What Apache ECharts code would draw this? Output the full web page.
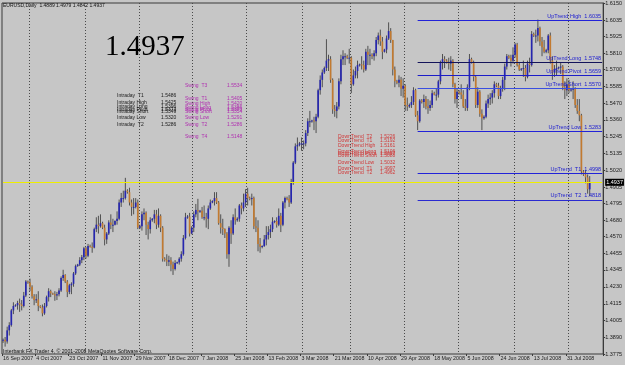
<!DOCTYPE html>
<html>
<head>
<meta charset="utf-8">
<script src="https://cdn.jsdelivr.net/npm/echarts@6/dist/echarts.min.js"></script>
<style>
html, body { margin: 0; padding: 0; background: #c6c6c6; }
#chart { width: 625px; height: 365px; }
</style>
</head>
<body>
<div id="chart"></div>
<script>
// EURUSD daily bars, 16 Sep 2007 .. 13 Aug 2008 (Sun-Fri sessions), [open, high, low, close]
const eurusd = [
  [1.3865,1.3880,1.3850,1.3872],[1.3872,1.3890,1.3825,1.3860],[1.3860,1.3960,1.3845,1.3935],[1.3935,1.3990,1.3900,1.3970],
  [1.3970,1.4080,1.3960,1.4070],[1.4070,1.4125,1.4045,1.4100],[1.4100,1.4112,1.4095,1.4105],[1.4105,1.4135,1.4075,1.4120],
  [1.4120,1.4150,1.4060,1.4110],[1.4110,1.4140,1.4070,1.4100],[1.4100,1.4195,1.4090,1.4170],[1.4170,1.4275,1.4160,1.4265],
  [1.4265,1.4272,1.4250,1.4258],[1.4258,1.4285,1.4200,1.4230],[1.4230,1.4240,1.4150,1.4165],[1.4165,1.4180,1.4105,1.4140],
  [1.4140,1.4180,1.4120,1.4145],[1.4145,1.4200,1.4065,1.4100],[1.4100,1.4105,1.4085,1.4090],[1.4090,1.4110,1.4030,1.4050],
  [1.4050,1.4120,1.4040,1.4100],[1.4100,1.4170,1.4090,1.4160],[1.4160,1.4220,1.4130,1.4200],[1.4200,1.4210,1.4160,1.4185],
  [1.4185,1.4190,1.4175,1.4180],[1.4180,1.4200,1.4135,1.4170],[1.4170,1.4195,1.4140,1.4180],[1.4180,1.4220,1.4165,1.4205],
  [1.4205,1.4300,1.4195,1.4290],[1.4290,1.4345,1.4270,1.4310],[1.4310,1.4315,1.4255,1.4265],[1.4265,1.4275,1.4160,1.4195],
  [1.4195,1.4250,1.4180,1.4240],[1.4240,1.4260,1.4180,1.4250],[1.4250,1.4330,1.4230,1.4320],[1.4320,1.4380,1.4310,1.4370],
  [1.4370,1.4385,1.4365,1.4380],[1.4380,1.4430,1.4370,1.4410],[1.4410,1.4445,1.4390,1.4430],[1.4430,1.4500,1.4410,1.4490],
  [1.4490,1.4500,1.4420,1.4440],[1.4440,1.4520,1.4430,1.4505],[1.4505,1.4515,1.4495,1.4500],[1.4500,1.4530,1.4460,1.4495],
  [1.4495,1.4630,1.4490,1.4620],[1.4620,1.4700,1.4600,1.4650],[1.4650,1.4710,1.4590,1.4640],[1.4640,1.4720,1.4630,1.4660],
  [1.4660,1.4670,1.4620,1.4630],[1.4630,1.4650,1.4510,1.4550],[1.4550,1.4600,1.4520,1.4590],[1.4590,1.4680,1.4580,1.4665],
  [1.4665,1.4720,1.4620,1.4650],[1.4650,1.4690,1.4600,1.4650],[1.4650,1.4680,1.4645,1.4675],[1.4675,1.4740,1.4650,1.4690],
  [1.4690,1.4820,1.4680,1.4800],[1.4800,1.4865,1.4770,1.4830],[1.4830,1.4880,1.4800,1.4830],[1.4830,1.4967,1.4820,1.4880],
  [1.4880,1.4890,1.4860,1.4870],[1.4870,1.4900,1.4780,1.4800],[1.4800,1.4820,1.4710,1.4770],[1.4770,1.4830,1.4720,1.4770],
  [1.4770,1.4830,1.4760,1.4800],[1.4800,1.4820,1.4620,1.4630],[1.4630,1.4650,1.4620,1.4640],[1.4640,1.4740,1.4610,1.4720],
  [1.4720,1.4760,1.4680,1.4730],[1.4730,1.4740,1.4580,1.4650],[1.4650,1.4670,1.4550,1.4620],[1.4620,1.4700,1.4590,1.4680],
  [1.4680,1.4695,1.4670,1.4690],[1.4690,1.4750,1.4660,1.4720],[1.4720,1.4750,1.4620,1.4650],[1.4650,1.4760,1.4630,1.4710],
  [1.4710,1.4720,1.4600,1.4630],[1.4630,1.4640,1.4400,1.4420],[1.4420,1.4430,1.4400,1.4410],[1.4410,1.4450,1.4370,1.4400],
  [1.4400,1.4440,1.4370,1.4410],[1.4410,1.4430,1.4335,1.4380],[1.4380,1.4400,1.4310,1.4350],[1.4350,1.4410,1.4340,1.4390],
  [1.4390,1.4400,1.4385,1.4395],[1.4395,1.4430,1.4380,1.4420],[1.4420,1.4470,1.4400,1.4450],[1.4450,1.4580,1.4440,1.4560],
  [1.4560,1.4730,1.4550,1.4700],[1.4700,1.4715,1.4690,1.4705],[1.4705,1.4730,1.4570,1.4590],[1.4590,1.4640,1.4585,1.4630],
  [1.4630,1.4740,1.4600,1.4720],[1.4720,1.4790,1.4700,1.4750],[1.4750,1.4825,1.4680,1.4740],[1.4740,1.4750,1.4730,1.4745],
  [1.4745,1.4770,1.4690,1.4700],[1.4700,1.4780,1.4680,1.4700],[1.4700,1.4730,1.4630,1.4690],[1.4690,1.4780,1.4620,1.4760],
  [1.4760,1.4820,1.4750,1.4800],[1.4800,1.4815,1.4795,1.4810],[1.4810,1.4870,1.4780,1.4830],[1.4830,1.4870,1.4790,1.4800],
  [1.4800,1.4810,1.4650,1.4660],[1.4660,1.4720,1.4590,1.4630],[1.4630,1.4690,1.4580,1.4620],[1.4620,1.4625,1.4560,1.4590],
  [1.4590,1.4600,1.4420,1.4450],[1.4450,1.4640,1.4365,1.4630],[1.4630,1.4680,1.4520,1.4590],[1.4590,1.4720,1.4580,1.4700],
  [1.4700,1.4760,1.4650,1.4680],[1.4680,1.4700,1.4670,1.4690],[1.4690,1.4790,1.4670,1.4780],[1.4780,1.4800,1.4720,1.4760],
  [1.4760,1.4860,1.4740,1.4800],[1.4800,1.4890,1.4770,1.4860],[1.4860,1.4900,1.4780,1.4830],[1.4830,1.4840,1.4815,1.4825],
  [1.4825,1.4860,1.4780,1.4830],[1.4830,1.4840,1.4620,1.4640],[1.4640,1.4700,1.4600,1.4630],[1.4630,1.4680,1.4470,1.4520],
  [1.4520,1.4560,1.4460,1.4500],[1.4500,1.4510,1.4490,1.4505],[1.4505,1.4580,1.4500,1.4550],[1.4550,1.4640,1.4510,1.4580],
  [1.4580,1.4640,1.4550,1.4600],[1.4600,1.4650,1.4560,1.4620],[1.4620,1.4700,1.4600,1.4670],[1.4670,1.4680,1.4660,1.4675],
  [1.4675,1.4700,1.4630,1.4650],[1.4650,1.4760,1.4640,1.4710],[1.4710,1.4730,1.4600,1.4650],[1.4650,1.4810,1.4640,1.4800],
  [1.4800,1.4840,1.4760,1.4830],[1.4830,1.4840,1.4815,1.4825],[1.4825,1.4850,1.4770,1.4800],[1.4800,1.4960,1.4790,1.4940],
  [1.4940,1.5080,1.4920,1.5070],[1.5070,1.5200,1.5060,1.5180],[1.5180,1.5240,1.5150,1.5190],[1.5190,1.5210,1.5180,1.5200],
  [1.5200,1.5240,1.5150,1.5200],[1.5200,1.5220,1.5160,1.5200],[1.5200,1.5290,1.5180,1.5270],[1.5270,1.5370,1.5250,1.5350],
  [1.5350,1.5420,1.5310,1.5350],[1.5350,1.5360,1.5340,1.5355],[1.5355,1.5380,1.5290,1.5350],[1.5350,1.5400,1.5270,1.5380],
  [1.5380,1.5570,1.5370,1.5560],[1.5560,1.5660,1.5530,1.5630],[1.5630,1.5700,1.5580,1.5680],[1.5680,1.5720,1.5670,1.5710],
  [1.5710,1.5905,1.5690,1.5760],[1.5760,1.5800,1.5690,1.5770],[1.5770,1.5790,1.5610,1.5630],[1.5630,1.5640,1.5400,1.5430],
  [1.5430,1.5460,1.5380,1.5420],[1.5420,1.5480,1.5370,1.5450],[1.5450,1.5640,1.5430,1.5620],[1.5620,1.5800,1.5600,1.5770],
  [1.5770,1.5830,1.5730,1.5790],[1.5790,1.5810,1.5730,1.5790],[1.5790,1.5800,1.5770,1.5780],[1.5780,1.5840,1.5740,1.5780],
  [1.5780,1.5790,1.5540,1.5600],[1.5600,1.5700,1.5590,1.5660],[1.5660,1.5720,1.5640,1.5690],[1.5690,1.5760,1.5640,1.5730],
  [1.5730,1.5740,1.5720,1.5735],[1.5735,1.5790,1.5700,1.5730],[1.5730,1.5760,1.5680,1.5700],[1.5700,1.5840,1.5690,1.5820],
  [1.5820,1.5860,1.5730,1.5800],[1.5800,1.5840,1.5730,1.5800],[1.5800,1.5810,1.5770,1.5790],[1.5790,1.5830,1.5760,1.5810],
  [1.5810,1.5920,1.5790,1.5900],[1.5900,1.5950,1.5870,1.5930],[1.5930,1.5970,1.5860,1.5890],[1.5890,1.5920,1.5770,1.5820],
  [1.5820,1.5840,1.5815,1.5835],[1.5835,1.5930,1.5810,1.5910],[1.5910,1.6019,1.5900,1.5960],[1.5960,1.5980,1.5880,1.5900],
  [1.5900,1.5900,1.5660,1.5700],[1.5700,1.5720,1.5580,1.5620],[1.5620,1.5630,1.5600,1.5610],[1.5610,1.5660,1.5580,1.5630],
  [1.5630,1.5650,1.5520,1.5570],[1.5570,1.5640,1.5510,1.5590],[1.5590,1.5600,1.5420,1.5460],[1.5460,1.5510,1.5420,1.5450],
  [1.5450,1.5470,1.5440,1.5460],[1.5460,1.5520,1.5440,1.5480],[1.5480,1.5580,1.5460,1.5560],[1.5560,1.5570,1.5380,1.5390],
  [1.5390,1.5420,1.5290,1.5350],[1.5350,1.5500,1.5340,1.5490],[1.5490,1.5500,1.5470,1.5480],[1.5480,1.5530,1.5440,1.5500],
  [1.5500,1.5520,1.5430,1.5450],[1.5450,1.5500,1.5400,1.5440],[1.5440,1.5490,1.5420,1.5460],[1.5460,1.5560,1.5440,1.5540],
  [1.5540,1.5550,1.5525,1.5530],[1.5530,1.5570,1.5490,1.5530],[1.5530,1.5630,1.5510,1.5620],[1.5620,1.5760,1.5600,1.5750],
  [1.5750,1.5805,1.5700,1.5770],[1.5770,1.5790,1.5710,1.5760],[1.5760,1.5770,1.5740,1.5750],[1.5750,1.5780,1.5700,1.5740],
  [1.5740,1.5790,1.5690,1.5760],[1.5760,1.5770,1.5580,1.5600],[1.5600,1.5610,1.5470,1.5500],[1.5500,1.5570,1.5440,1.5550],
  [1.5550,1.5560,1.5530,1.5545],[1.5545,1.5600,1.5500,1.5530],[1.5530,1.5560,1.5440,1.5450],[1.5450,1.5500,1.5420,1.5440],
  [1.5440,1.5600,1.5420,1.5580],[1.5580,1.5805,1.5560,1.5770],[1.5770,1.5780,1.5740,1.5750],[1.5750,1.5760,1.5620,1.5650],
  [1.5650,1.5660,1.5440,1.5460],[1.5460,1.5580,1.5440,1.5550],[1.5550,1.5560,1.5380,1.5400],[1.5400,1.5430,1.5290,1.5370],
  [1.5370,1.5390,1.5360,1.5380],[1.5380,1.5490,1.5370,1.5470],[1.5470,1.5530,1.5440,1.5500],[1.5500,1.5540,1.5460,1.5510],
  [1.5510,1.5560,1.5470,1.5540],[1.5540,1.5620,1.5510,1.5600],[1.5600,1.5610,1.5580,1.5590],[1.5590,1.5610,1.5500,1.5520],
  [1.5520,1.5590,1.5500,1.5570],[1.5570,1.5650,1.5550,1.5630],[1.5630,1.5740,1.5560,1.5720],[1.5720,1.5805,1.5700,1.5790],
  [1.5790,1.5800,1.5770,1.5780],[1.5780,1.5800,1.5720,1.5760],[1.5760,1.5850,1.5740,1.5800],[1.5800,1.5880,1.5780,1.5870],
  [1.5870,1.5880,1.5720,1.5730],[1.5730,1.5750,1.5690,1.5700],[1.5700,1.5710,1.5690,1.5705],[1.5705,1.5760,1.5650,1.5710],
  [1.5710,1.5730,1.5620,1.5650],[1.5650,1.5760,1.5640,1.5740],[1.5740,1.5780,1.5680,1.5730],[1.5730,1.5960,1.5720,1.5940],
  [1.5940,1.5950,1.5920,1.5930],[1.5930,1.5970,1.5880,1.5930],[1.5930,1.6038,1.5890,1.5980],[1.5980,1.5990,1.5860,1.5890],
  [1.5890,1.5920,1.5790,1.5850],[1.5850,1.5900,1.5810,1.5820],[1.5820,1.5840,1.5810,1.5830],[1.5830,1.5940,1.5810,1.5930],
  [1.5930,1.5950,1.5740,1.5760],[1.5760,1.5790,1.5630,1.5680],[1.5680,1.5730,1.5650,1.5700],[1.5700,1.5760,1.5660,1.5710],
  [1.5710,1.5720,1.5700,1.5715],[1.5715,1.5750,1.5670,1.5720],[1.5720,1.5730,1.5560,1.5580],[1.5580,1.5620,1.5500,1.5560],
  [1.5560,1.5640,1.5520,1.5600],[1.5600,1.5630,1.5540,1.5560],[1.5560,1.5570,1.5550,1.5565],[1.5565,1.5620,1.5500,1.5570],
  [1.5570,1.5580,1.5440,1.5460],[1.5460,1.5500,1.5400,1.5420],[1.5420,1.5500,1.5350,1.5390],[1.5390,1.5400,1.4990,1.5010],
  [1.5010,1.5020,1.4980,1.4990],[1.4990,1.5020,1.4930,1.4970],[1.4970,1.4990,1.4860,1.4890],[1.4889,1.4979,1.4842,1.4937]
];

// one label every 16 bars
const xTickLabels = ['16 Sep 2007', '4 Oct 2007', '23 Oct 2007', '11 Nov 2007', '29 Nov 2007', '18 Dec 2007',
  '7 Jan 2008', '25 Jan 2008', '13 Feb 2008', '3 Mar 2008', '21 Mar 2008', '10 Apr 2008', '29 Apr 2008',
  '18 May 2008', '5 Jun 2008', '24 Jun 2008', '13 Jul 2008', '31 Jul 2008'];
const yTickValues = [1.6150, 1.6035, 1.5925, 1.5810, 1.5700, 1.5585, 1.5470, 1.5360, 1.5245, 1.5135, 1.5020,
  1.4905, 1.4795, 1.4680, 1.4570, 1.4455, 1.4345, 1.4230, 1.4115, 1.4005, 1.3890, 1.3775];
const gridBars = [13, 40, 66, 92, 118, 145, 168, 194, 220, 247, 273];

const lastPrice = 1.4937;
const ohlcHeader = 'EURUSD,Daily  1.4889 1.4979 1.4842 1.4937';

// right-hand trend levels
const trendNames = ['UpTrend High', 'UpTrend Long', 'UpTrend Pivot', 'UpTrend Short', 'UpTrend Low', 'UpTrend  T1', 'UpTrend  T2'];
const trendValues = [1.6035, 1.5748, 1.5659, 1.5570, 1.5283, 1.4998, 1.4818];
const trendColors = ['#2222d8', '#14145a', '#1c1cc8', '#3a4ee0', '#2222d8', '#2222d8', '#2a2ad0'];
const trendStartBar = 200;

const intradayNames = ['Intraday  T1', 'Intraday High', 'Intraday Long', 'Intraday Pivot', 'Intraday Short', 'Intraday Low', 'Intraday  T2'];
const intradayValues = ['1.5486', '1.5425', '1.5396', '1.5373', '1.5349', '1.5320', '1.5286'];
const swingNames = ['Swing  T3', 'Swing  T1', 'Swing High', 'Swing Long', 'Swing Pivot', 'Swing Short', 'Swing Low', 'Swing  T2', 'Swing  T4'];
const swingValues = ['1.5534', '1.5405', '1.5420', '1.5386', '1.5370', '1.5354', '1.5291', '1.5286', '1.5148'];
const downNames = ['DownTrend  T2', 'DownTrend  T1', 'DownTrend High', 'DownTrend Long', 'DownTrend Pivot', 'DownTrend Short', 'DownTrend Low', 'DownTrend  T1', 'DownTrend  T2'];
const downValues = ['1.5226', '1.5192', '1.5161', '1.5106', '1.5097', '1.5088', '1.5032', '1.4997', '1.4962'];

const totalSlots = 290;
const categories = Array.from({ length: totalSlots }, (_, i) => String(i));

function drawCandle(params, api) {
  const i = api.value(0);
  const open = api.value(1), high = api.value(2), low = api.value(3), close = api.value(4);
  const hi = api.coord([i, high]);
  const lo = api.coord([i, low]);
  const o = api.coord([i, open]);
  const c = api.coord([i, close]);
  const w = api.size([1, 0])[0] * 0.8;
  return {
    type: 'group',
    children: [
      { type: 'line', shape: { x1: hi[0], y1: hi[1], x2: lo[0], y2: lo[1] },
        style: { stroke: '#505050', lineWidth: 1 } },
      { type: 'rect', shape: { x: o[0] - w / 2, y: Math.min(o[1], c[1]), width: w, height: Math.max(1, Math.abs(o[1] - c[1])) },
        style: { fill: close >= open ? '#2626b0' : '#c27a30' } }
    ]
  };
}

function textBlock(names, values, x, valueX, ys, color) {
  const out = [];
  names.forEach(function (name, k) {
    const font = { fontSize: 5, fontFamily: 'Liberation Sans', fill: color };
    out.push({ type: 'text', left: x, top: ys[k] - 3, style: Object.assign({ text: name }, font), silent: true });
    out.push({ type: 'text', left: valueX, top: ys[k] - 3, style: Object.assign({ text: values[k] }, font), silent: true });
  });
  return out;
}

const trendLines = trendNames.map(function (name, k) {
  return [
    { coord: [trendStartBar, trendValues[k]],
      lineStyle: { color: trendColors[k], width: 1, type: 'solid' },
      label: { show: true, position: 'insideEndTop', distance: 1, formatter: name + '  ' + trendValues[k].toFixed(4),
        color: '#2020d0', fontSize: 5.5, fontFamily: 'Liberation Sans' } },
    { coord: [totalSlots - 1, trendValues[k]] }
  ];
});

// current price line across the whole chart
const priceLine = [
  { coord: [0, lastPrice], lineStyle: { color: '#eeee00', width: 1, type: 'solid' },
    label: { show: true, position: 'end', distance: 3, formatter: lastPrice.toFixed(4),
      color: '#fff', backgroundColor: '#000', padding: [1, 1, 0, 1], fontSize: 5.5, fontFamily: 'Liberation Sans' } },
  { coord: [totalSlots - 1, lastPrice] }
];

const myChart = echarts.init(document.getElementById('chart'));
const option = {
  backgroundColor: '#c6c6c6',
  animation: false,
  grid: { left: 2, right: 20, top: 2, bottom: 11, show: true, borderColor: '#3a3a3a', borderWidth: 1, backgroundColor: 'transparent' },
  xAxis: {
    type: 'category',
    data: categories,
    boundaryGap: true,
    axisLine: { show: false },
    axisTick: { show: true, length: 2, lineStyle: { color: '#3a3a3a' },
      interval: function (i) { return i % 16 === 0 && i / 16 < xTickLabels.length; } },
    axisLabel: {
      interval: function (i) { return i % 16 === 0 && i / 16 < xTickLabels.length; },
      formatter: function (v, i) { return xTickLabels[i / 16] || ''; },
      showMinLabel: true, hideOverlap: false,
      align: 'left', margin: 2, fontSize: 5.3, color: '#1a1a1a', fontFamily: 'Liberation Sans'
    },
    splitLine: { show: true, interval: function (i) { return gridBars.indexOf(i) >= 0; },
      lineStyle: { color: '#4a4a4a', type: [1, 2], width: 1 } }
  },
  yAxis: {
    type: 'value',
    position: 'right',
    min: 1.3775,
    max: 1.6150,
    axisLine: { show: true, lineStyle: { color: '#3a3a3a' } },
    axisTick: { show: true, length: 2, customValues: yTickValues, lineStyle: { color: '#3a3a3a' } },
    axisLabel: { customValues: yTickValues, formatter: function (v) { return v.toFixed(4); },
      margin: 2, fontSize: 5.5, color: '#1a1a1a', fontFamily: 'Liberation Sans' },
    splitLine: { show: false }
  },
  graphic: [
    { type: 'text', left: 3, top: 3, silent: true,
      style: { text: ohlcHeader, fontSize: 5, fontFamily: 'Liberation Sans', fill: '#111' } },
    { type: 'text', left: 3, top: 349, silent: true,
      style: { text: 'Interbank FX Trader 4, \u00a9 2001-2008 MetaQuotes Software Corp.', fontSize: 5.2, fontFamily: 'Liberation Sans', fill: '#111' } },
    { type: 'text', left: 105, top: 33, silent: true,
      style: { text: lastPrice.toFixed(4), fontSize: 29, fontFamily: 'Liberation Serif', fill: '#000' } }
  ]
    .concat(textBlock(intradayNames, intradayValues, 117, 161, [96, 103, 107.5, 110, 112, 118, 125], '#1a1a1a'))
    .concat(textBlock(swingNames, swingValues, 185, 227, [86, 99, 104, 108, 110, 112, 118, 125, 137], '#b030b0'))
    .concat(textBlock(downNames, downValues, 338, 380, [137, 141, 146, 152, 154.5, 156.5, 163, 169, 173], '#d03a3a')),
  series: [
    {
      type: 'custom',
      renderItem: drawCandle,
      data: eurusd.map(function (b, i) { return [i, b[0], b[1], b[2], b[3]]; }),
      encode: { x: 0, y: [1, 2, 3, 4] },
      markLine: {
        silent: true,
        symbol: 'none',
        animation: false,
        data: [priceLine].concat(trendLines)
      }
    }
  ]
};
myChart.setOption(option);
</script>
</body>
</html>
